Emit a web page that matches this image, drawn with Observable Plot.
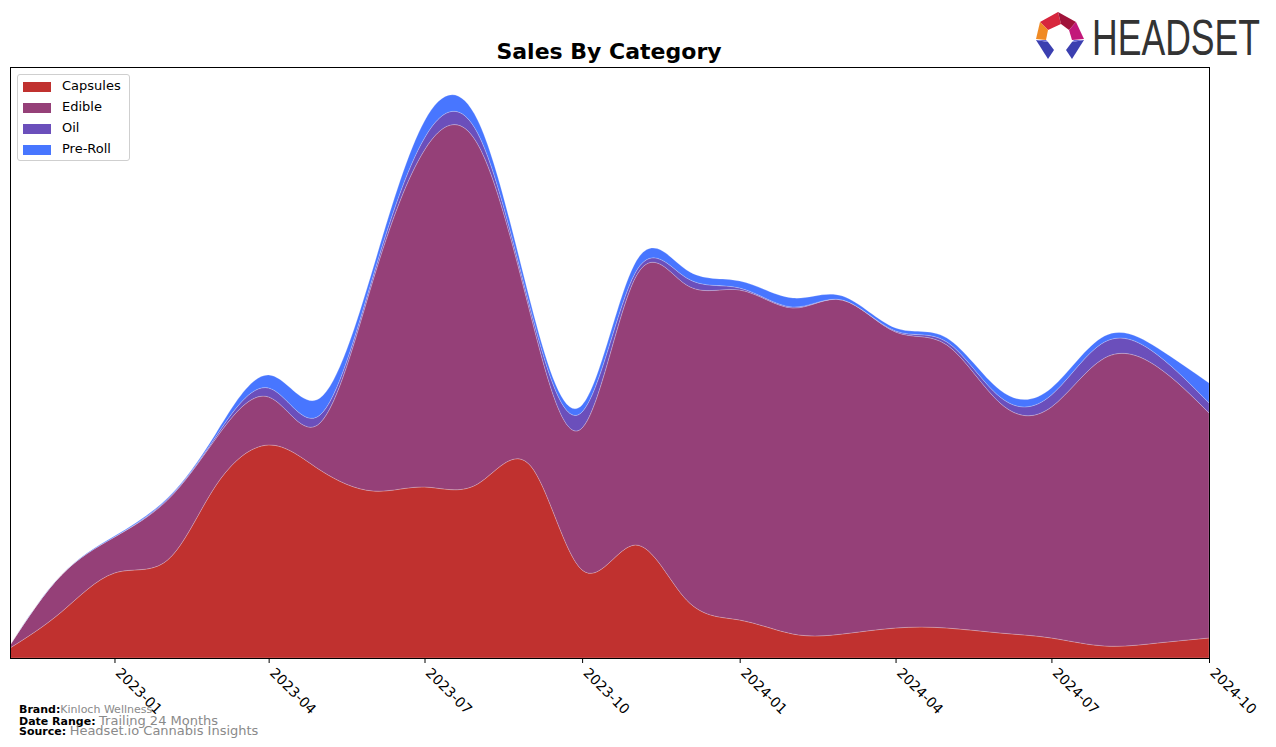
<!DOCTYPE html>
<html>
<head>
<meta charset="utf-8">
<script src="https://cdn.jsdelivr.net/npm/d3@7"></script>
<script src="https://cdn.jsdelivr.net/npm/@observablehq/plot@0.6"></script>
<style>
  html, body { margin: 0; padding: 0; background: #fff; }
  body { width: 1276px; height: 747px; position: relative; overflow: hidden; font-family: "DejaVu Sans", sans-serif; }
  #chart { position: absolute; left: 0; top: 0; }
  .title { position: absolute; left: 609px; top: 39px; transform: translateX(-50%); white-space: nowrap; font-weight: bold; font-size: 22px; line-height: 26px; color: #000; }
  .legend { position: absolute; left: 17px; top: 74px; width: 111px; height: 85px; border: 1px solid #cfcfcf; border-radius: 3px; background: rgba(255,255,255,0.85); }
  .legend .row { position: absolute; left: 5px; height: 16px; font-size: 13px; color: #000; }
  .legend .sw { position: absolute; left: 0; top: 3px; width: 28px; height: 10px; }
  .legend .lab { position: absolute; left: 39px; top: -1px; white-space: nowrap; }
  .foot { position: absolute; left: 19px; font-size: 11px; line-height: 10px; white-space: nowrap; }
  .foot b { color: #000; }
  .foot span { color: #8a8a8a; }
  .logo { position: absolute; left: 1036px; top: 12px; }
</style>
</head>
<body>
<div id="chart"></div>
<div class="title">Sales By Category</div>
<div class="legend" id="legend"></div>
<div class="foot" style="top:705px"><b>Brand:</b><span>Kinloch Wellness</span></div>
<div class="foot" style="top:716px"><b>Date Range:</b> <span style="font-size:13px">Trailing 24 Months</span></div>
<div class="foot" style="top:726px"><b>Source:</b> <span style="font-size:13px">Headset.io Cannabis Insights</span></div>
<svg class="logo" width="236" height="52" viewBox="0 0 236 52">
  <polygon points="4,10 22,0 25,12 12,18" fill="#d7263d"/>
  <polygon points="22,0 40,10 33,18 25,12" fill="#a0133a"/>
  <polygon points="40,10 48,27 36,28 33,18" fill="#c2187a"/>
  <polygon points="4,10 12,18 10,28 0,27" fill="#f08a24"/>
  <polygon points="0,28 12,30 18,38 12,47" fill="#3b3fb0"/>
  <polygon points="48,28 36,30 30,38 36,47" fill="#3b3fb0"/>
  <polygon points="0,28 10,28 12,30" fill="#6a6cd8"/>
  <polygon points="48,28 38,28 36,30" fill="#6a6cd8"/>
  <text transform="translate(56,43) scale(1,1.38)" font-family="'Liberation Sans',sans-serif" font-size="36" fill="#333" textLength="168" lengthAdjust="spacingAndGlyphs">HEADSET</text>
</svg>
<script>
// ---- Data (monthly sales, arbitrary units) ----
const months = ["2022-11","2022-12","2023-01","2023-02","2023-03","2023-04","2023-05","2023-06",
                "2023-07","2023-08","2023-09","2023-10","2023-11","2023-12","2024-01","2024-02",
                "2024-03","2024-04","2024-05","2024-06","2024-07","2024-08","2024-09","2024-10"];
const categories = ["Capsules","Edible","Oil","Pre-Roll"];
const capsules = [10, 46, 85, 98, 172, 213, 188, 167, 171, 174, 192, 88, 113, 58, 38, 24, 24, 30, 30, 25, 20, 12, 15, 20];
const edible   = [3, 37, 36, 60, 47, 48, 47, 211, 337, 340, 151, 142, 267, 315, 330, 326, 334, 296, 283, 230, 231, 288, 276, 225];
const oil      = [0, 0, 0, 1, 2, 9, 8, 4, 12, 11, 5, 16, 5, 7, 2, 1, 0, 1, 3, 6, 12, 16, 12, 10];
const preRoll  = [0, 0, 1, 1, 3, 13, 17, 8, 17, 13, 7, 7, 10, 8, 7, 9, 4, 3, 4, 7, 7, 6, 7, 20];
const colors   = ["#c0312f", "#954078", "#6b4fbb", "#4876ff"];
const tickMonths = ["2023-01","2023-04","2023-07","2023-10","2024-01","2024-04","2024-07","2024-10"];

const series = [capsules, edible, oil, preRoll];
const parse = d3.utcParse("%Y-%m");
const rows = [];
categories.forEach((c, i) => {
  months.forEach((m, j) => rows.push({date: parse(m), category: c, value: series[i][j]}));
});
const ticks = tickMonths.map(parse);

const chart = Plot.plot({
  width: 1276,
  height: 747,
  marginLeft: 10,
  marginRight: 67,
  marginTop: 67,
  marginBottom: 89,
  style: {fontFamily: "'DejaVu Sans', sans-serif", fontSize: "14px", background: "transparent"},
  x: {type: "utc", domain: [parse(months[0]), parse(months[months.length - 1])]},
  y: {domain: [0, 591], axis: null},
  color: {domain: categories, range: colors},
  marks: [
    Plot.areaY(rows, Plot.stackY({
      x: "date", y: "value", z: "category", fill: "category",
      order: categories, curve: "natural",
      stroke: "white", strokeOpacity: 0.35, strokeWidth: 0.6
    })),
    Plot.frame({stroke: "#000", strokeWidth: 1}),
    Plot.axisX({ticks, tickSize: 5, text: null, stroke: "#000"}),
    Plot.axisX({
      ticks,
      tickFormat: d3.utcFormat("%Y-%m"),
      tickRotate: 45,
      tickSize: 0,
      tickPadding: 12,
      dx: 3,
      fontSize: 14,
      fill: "#000"
    })
  ]
});
document.getElementById("chart").appendChild(chart);

// Legend
const leg = document.getElementById("legend");
categories.forEach((c, i) => {
  const row = document.createElement("div");
  row.className = "row";
  row.style.top = (4 + i * 21) + "px";
  row.innerHTML = `<div class="sw" style="background:${colors[i]}"></div><div class="lab">${c}</div>`;
  leg.appendChild(row);
});
</script>
</body>
</html>
